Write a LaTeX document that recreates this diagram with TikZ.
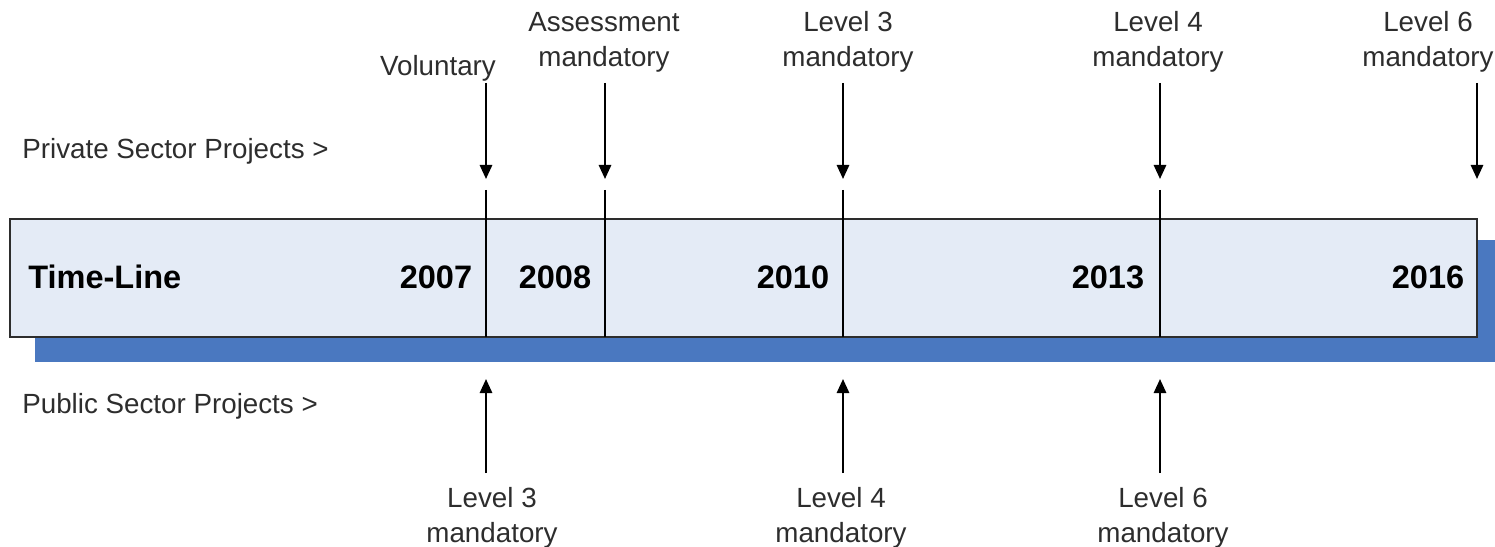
\documentclass[tikz,border=0pt]{standalone}
\usepackage{fontspec}
\setmainfont{Liberation Sans}
\usetikzlibrary{arrows.meta}
\definecolor{barfill}{RGB}{228,235,246}
\definecolor{barshadow}{RGB}{74,120,192}
\definecolor{ink}{RGB}{45,45,45}

\begin{document}
\begin{tikzpicture}[x=0.02cm,y=-0.02cm,
	label/.style={font=\fontsize{15.8}{19.8}\selectfont, text=ink, align=center, inner sep=0pt},
	year/.style={font=\bfseries\fontsize{18.5}{22}\selectfont, inner sep=0pt},
	pointer/.style={line width=1.2pt, -{Triangle[length=8pt,width=7pt]}},
	tick/.style={line width=1.2pt}]
	\useasboundingbox (0,0) rectangle (1495,547);
	\fill[barshadow] (35,240) rectangle (1495,362);
	\filldraw[fill=barfill, draw=ink, line width=1.1pt] (10,219) rectangle (1477,337);

	\node[year, anchor=west] (title) at (28,277) {Time-Line};
	\node[year] (y2007) at (436,277) {2007};
	\node[year] (y2008) at (555,277) {2008};
	\node[year] (y2010) at (793,277) {2010};
	\node[year] (y2013) at (1108,277) {2013};
	\node[year] (y2016) at (1428,277) {2016};

	\node[label, anchor=west] (private) at (22,151) {Private Sector Projects >};
	\node[label, anchor=west] (public) at (22,406) {Public Sector Projects >};

	\node[label] (vol) at (438,68) {Voluntary};
	\node[label] (assess) at (604,42) {Assessment\\mandatory};
	\node[label] (pthree) at (848,42) {Level 3\\mandatory};
	\node[label] (pfour) at (1158,42) {Level 4\\mandatory};
	\node[label] (psix) at (1428,42) {Level 6\\mandatory};

	\node[label] (gthree) at (492,518) {Level 3\\mandatory};
	\node[label] (gfour) at (841,518) {Level 4\\mandatory};
	\node[label] (gsix) at (1163,518) {Level 6\\mandatory};

	\foreach \x/\n in {486/a,605/b,843/c,1160/d,1477/e}{
		\coordinate (top\n) at (\x,83);
		\coordinate (tip\n) at (\x,179);
		\draw[pointer] (top\n) -- (tip\n);
	}
	\foreach \x in {486,605,843,1160}
		\draw[tick] (\x,190) -- (\x,337);

	\foreach \x/\n in {486/a,843/c,1160/d}{
		\coordinate (low\n) at (\x,473);
		\coordinate (up\n) at (\x,379);
		\draw[pointer] (low\n) -- (up\n);
	}
\end{tikzpicture}
\end{document}
